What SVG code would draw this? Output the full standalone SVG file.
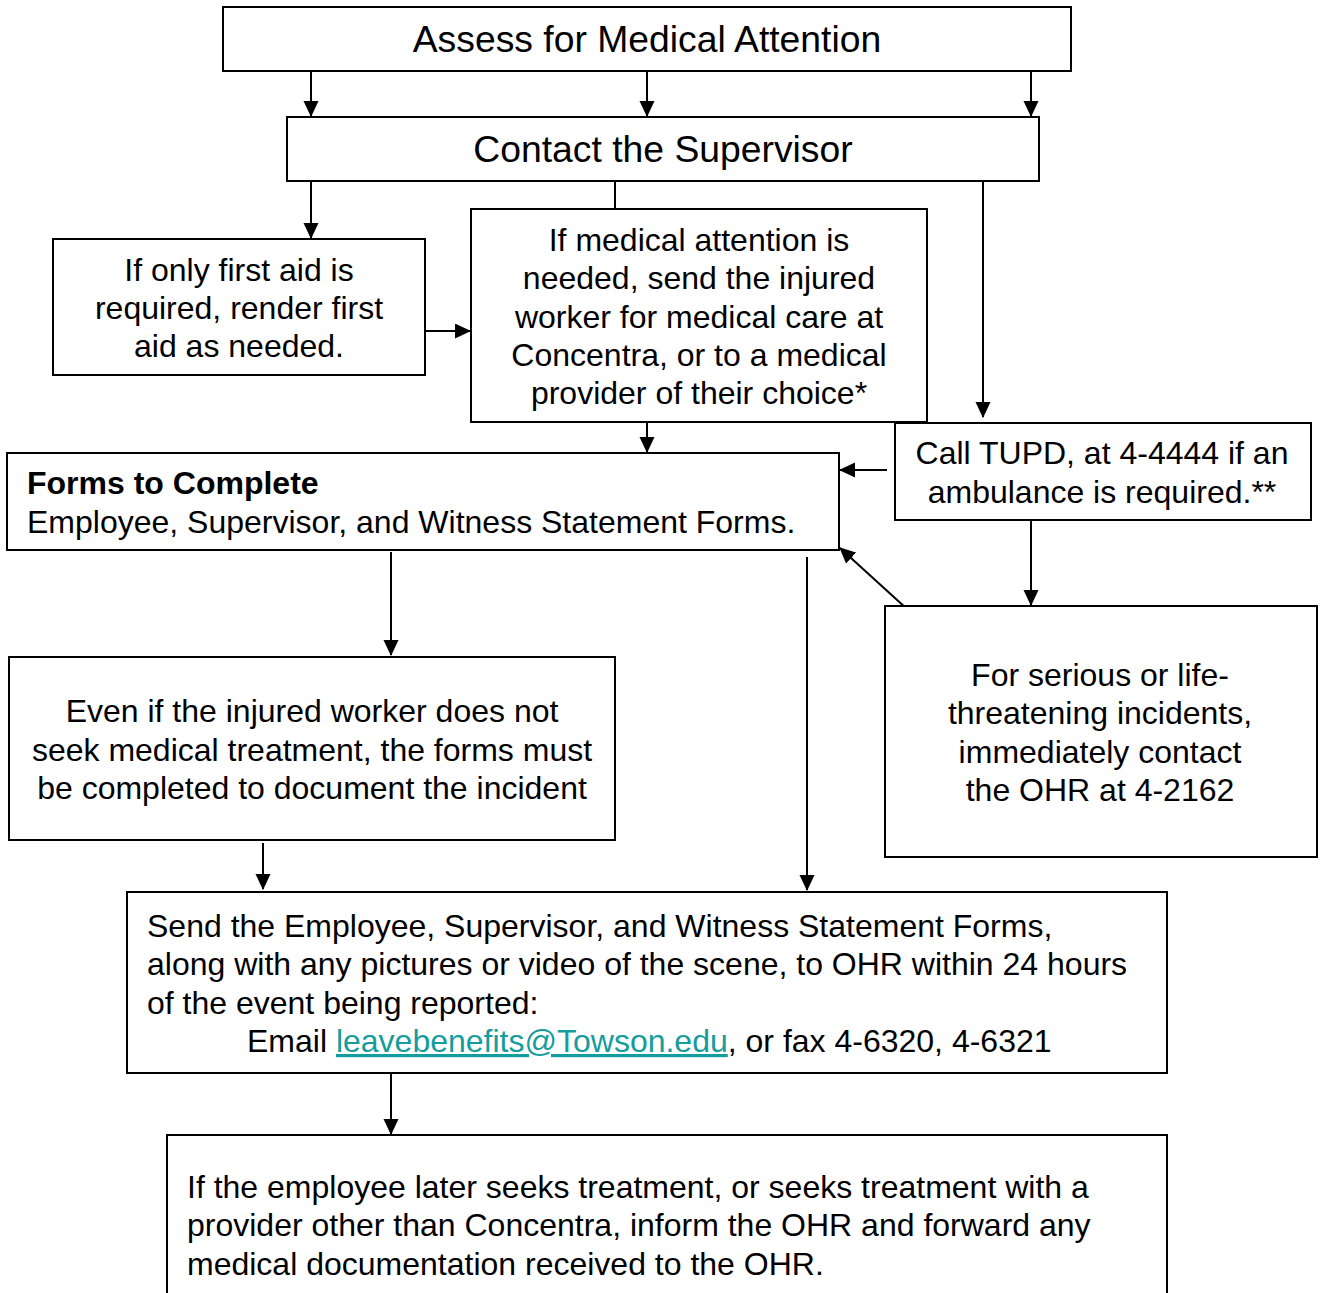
<svg xmlns="http://www.w3.org/2000/svg" width="1321" height="1293" viewBox="0 0 1321 1293">
<style>
.box{fill:#fff;stroke:#000;stroke-width:2}
.t{font-family:"Liberation Sans",Arial,sans-serif;font-size:32px;fill:#000}
.big{font-size:37.3px}
.c{text-anchor:middle}
.b{font-weight:bold}
.ln{stroke:#000;stroke-width:2;fill:none}
.link{fill:#159c9c;text-decoration:underline}
</style>
<defs>
<marker id="ah" markerUnits="userSpaceOnUse" markerWidth="16" markerHeight="16" refX="15" refY="7.5" orient="auto">
<path d="M0,0 L16,7.5 L0,15 Z" fill="#000"/>
</marker>
</defs>
<rect width="1321" height="1293" fill="#fff"/>
<g id="connectors">
<line class="ln" x1="311" y1="71" x2="311" y2="116" marker-end="url(#ah)"/>
<line class="ln" x1="647" y1="71" x2="647" y2="116" marker-end="url(#ah)"/>
<line class="ln" x1="1031" y1="71" x2="1031" y2="116" marker-end="url(#ah)"/>
<line class="ln" x1="311" y1="181" x2="311" y2="238" marker-end="url(#ah)"/>
<line class="ln" x1="615" y1="181" x2="615" y2="209"/>
<line class="ln" x1="425" y1="331" x2="470" y2="331" marker-end="url(#ah)"/>
<line class="ln" x1="983" y1="181" x2="983" y2="417" marker-end="url(#ah)"/>
<line class="ln" x1="647" y1="422" x2="647" y2="452" marker-end="url(#ah)"/>
<line class="ln" x1="887" y1="470" x2="840" y2="470" marker-end="url(#ah)"/>
<line class="ln" x1="1031" y1="520" x2="1031" y2="605" marker-end="url(#ah)"/>
<line class="ln" x1="907" y1="609" x2="840" y2="548" marker-end="url(#ah)"/>
<line class="ln" x1="391" y1="552" x2="391" y2="655" marker-end="url(#ah)"/>
<line class="ln" x1="807" y1="557" x2="807" y2="890" marker-end="url(#ah)"/>
<line class="ln" x1="263" y1="843" x2="263" y2="889" marker-end="url(#ah)"/>
<line class="ln" x1="391" y1="1073" x2="391" y2="1134" marker-end="url(#ah)"/>
</g>
<g id="n1">
<rect class="box" x="223" y="7" width="848" height="64"/>
<text class="t big c" x="647" y="52">Assess for Medical Attention</text>
</g>
<g id="n2">
<rect class="box" x="287" y="117" width="752" height="64"/>
<text class="t big c" x="663" y="162">Contact the Supervisor</text>
</g>
<g id="n3">
<rect class="box" x="53" y="239" width="372" height="136"/>
<text class="t c" x="239" y="281">If only first aid is</text>
<text class="t c" x="239" y="319">required, render first</text>
<text class="t c" x="239" y="357">aid as needed.</text>
</g>
<g id="n4">
<rect class="box" x="471" y="209" width="456" height="213"/>
<text class="t c" x="699" y="251">If medical attention is</text>
<text class="t c" x="699" y="289">needed, send the injured</text>
<text class="t c" x="699" y="328">worker for medical care at</text>
<text class="t c" x="699" y="366">Concentra, or to a medical</text>
<text class="t c" x="699" y="404">provider of their choice*</text>
</g>
<g id="n5">
<rect class="box" x="895" y="423" width="416" height="97"/>
<text class="t c" x="1102" y="464">Call TUPD, at 4-4444 if an</text>
<text class="t c" x="1102" y="503">ambulance is required.**</text>
</g>
<g id="n6">
<rect class="box" x="7" y="453" width="832" height="97"/>
<text class="t b" x="27" y="494">Forms to Complete</text>
<text class="t" x="27" y="533">Employee, Supervisor, and Witness Statement Forms.</text>
</g>
<g id="n7">
<rect class="box" x="885" y="606" width="432" height="251"/>
<text class="t c" x="1100" y="686">For serious or life-</text>
<text class="t c" x="1100" y="724">threatening incidents,</text>
<text class="t c" x="1100" y="763">immediately contact</text>
<text class="t c" x="1100" y="801">the OHR at 4-2162</text>
</g>
<g id="n8">
<rect class="box" x="9" y="657" width="606" height="183"/>
<text class="t c" x="312" y="722">Even if the injured worker does not</text>
<text class="t c" x="312" y="761">seek medical treatment, the forms must</text>
<text class="t c" x="312" y="799">be completed to document the incident</text>
</g>
<g id="n9">
<rect class="box" x="127" y="892" width="1040" height="181"/>
<text class="t" x="147" y="937">Send the Employee, Supervisor, and Witness Statement Forms,</text>
<text class="t" x="147" y="975">along with any pictures or video of the scene, to OHR within 24 hours</text>
<text class="t" x="147" y="1014">of the event being reported:</text>
<text class="t" x="247" y="1052">Email <tspan class="link">leavebenefits@Towson.edu</tspan>, or fax 4-6320, 4-6321</text>
</g>
<g id="n10">
<path class="ln" d="M167,1300 L167,1135 L1167,1135 L1167,1300"/>
<text class="t" x="187" y="1198">If the employee later seeks treatment, or seeks treatment with a</text>
<text class="t" x="187" y="1236">provider other than Concentra, inform the OHR and forward any</text>
<text class="t" x="187" y="1275">medical documentation received to the OHR.</text>
</g>
</svg>
